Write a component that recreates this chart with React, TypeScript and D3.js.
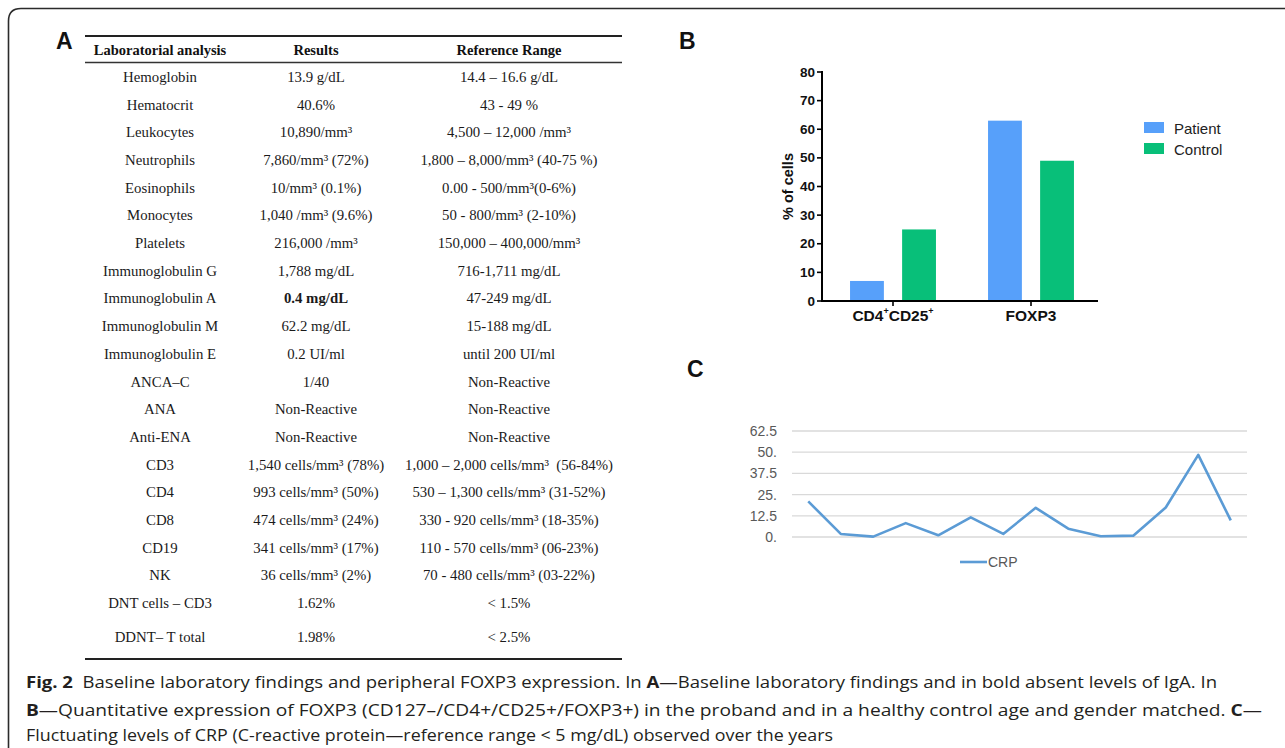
import React from "react";
import * as d3 from "d3";

// ---------- Panel A: table data ----------
const labTests = [
  "Hemoglobin", "Hematocrit", "Leukocytes", "Neutrophils", "Eosinophils", "Monocytes",
  "Platelets", "Immunoglobulin G", "Immunoglobulin A", "Immunoglobulin M", "Immunoglobulin E",
  "ANCA–C", "ANA", "Anti-ENA", "CD3", "CD4", "CD8", "CD19", "NK", "DNT cells – CD3", "DDNT– T total",
];
const labResults = [
  "13.9 g/dL", "40.6%", "10,890/mm³", "7,860/mm³ (72%)", "10/mm³ (0.1%)", "1,040 /mm³ (9.6%)",
  "216,000 /mm³", "1,788 mg/dL", "0.4 mg/dL", "62.2 mg/dL", "0.2 UI/ml", "1/40", "Non-Reactive",
  "Non-Reactive", "1,540 cells/mm³ (78%)", "993 cells/mm³ (50%)", "474 cells/mm³ (24%)",
  "341 cells/mm³ (17%)", "36 cells/mm³ (2%)", "1.62%", "1.98%",
];
const labRanges = [
  "14.4 – 16.6 g/dL", "43 - 49 %", "4,500 – 12,000 /mm³", "1,800 – 8,000/mm³ (40-75 %)",
  "0.00 - 500/mm³(0-6%)", "50 - 800/mm³ (2-10%)", "150,000 – 400,000/mm³", "716-1,711 mg/dL",
  "47-249 mg/dL", "15-188 mg/dL", "until 200 UI/ml", "Non-Reactive", "Non-Reactive", "Non-Reactive",
  "1,000 – 2,000 cells/mm³\u00a0 (56-84%)", "530 – 1,300 cells/mm³ (31-52%)", "330 - 920 cells/mm³ (18-35%)",
  "110 - 570 cells/mm³ (06-23%)", "70 - 480 cells/mm³ (03-22%)", "< 1.5%", "< 2.5%",
];
const tableHeaders = ["Laboratorial analysis", "Results", "Reference Range"];
const boldResultTest = "Immunoglobulin A";

// ---------- Panel B: bar chart data ----------
const cellCategories = ["CD4+CD25+", "FOXP3"];
const seriesNames = ["Patient", "Control"];
const patientValues = [7, 63];
const controlValues = [25, 49];
const barTicks = [0, 10, 20, 30, 40, 50, 60, 70, 80];

// ---------- Panel C: CRP line data ----------
const crpValues = [21, 1.8, 0.2, 8.2, 1.0, 11.6, 1.8, 17.2, 4.9, 0.4, 0.8, 17.4, 48.4, 9.8];
const crpTickValues = [0, 12.5, 25, 37.5, 50, 62.5];
const crpTickLabels = ["0.", "12.5", "25.", "37.5", "50.", "62.5"];

const W = 1285;
const H = 748;

const serif = "'Liberation Serif', 'Times New Roman', serif";
const sans = "'Liberation Sans', Arial, sans-serif";

function TablePanel() {
  const colX = [160, 316, 509];
  const rowY = d3.scaleLinear().domain([0, 19]).range([77, 603]);
  const yOf = (i: number) => rowY(i) + (i >= 20 ? 6 : 0);
  return (
    <g>
      <text x={56} y={49} fontFamily={sans} fontWeight="bold" fontSize={23} fill="#111">A</text>
      <line x1={85} x2={622} y1={36} y2={36} stroke="#222" strokeWidth={1.8} />
      <line x1={85} x2={622} y1={62.5} y2={62.5} stroke="#333" strokeWidth={1.4} />
      <line x1={85} x2={622} y1={659} y2={659} stroke="#222" strokeWidth={1.8} />
      {tableHeaders.map((h, j) => (
        <text key={h} x={colX[j]} y={50} textAnchor="middle" dominantBaseline="central"
          fontFamily={serif} fontWeight="bold" fontSize={14.5} fill="#111">{h}</text>
      ))}
      {labTests.map((t, i) => {
        const y = yOf(i);
        return (
          <g key={t} fontFamily={serif} fontSize={14.8} fill="#1a1a1a">
            <text x={colX[0]} y={y} textAnchor="middle" dominantBaseline="central">{t}</text>
            <text x={colX[1]} y={y} textAnchor="middle" dominantBaseline="central"
              fontWeight={t === boldResultTest ? "bold" : "normal"}>{labResults[i]}</text>
            <text x={colX[2]} y={y} textAnchor="middle" dominantBaseline="central">{labRanges[i]}</text>
          </g>
        );
      })}
    </g>
  );
}

function CategoryLabel({ label }: { label: string }) {
  // split "CD4+CD25+" into base text and superscript plus signs
  const tokens = label.match(/[^+]+|\+/g) || [];
  let raised = false;
  return (
    <>
      {tokens.map((tk, i) => {
        if (tk === "+") {
          const el = <tspan key={i} fontSize={9} dy={raised ? 0 : -7}>+</tspan>;
          raised = true;
          return el;
        }
        const el = <tspan key={i} dy={raised ? 7 : 0}>{tk}</tspan>;
        raised = false;
        return el;
      })}
    </>
  );
}

function BarPanel() {
  const left = 822, right = 1098, top = 72, bottom = 301;
  const y = d3.scaleLinear().domain([0, 80]).range([bottom, top]);
  const x0 = d3.scaleBand().domain(cellCategories).range([824, 1100]);
  const x1 = d3.scaleBand().domain(seriesNames).range([0, x0.bandwidth()]).paddingInner(0.35).paddingOuter(0.5);
  const color = d3.scaleOrdinal<string, string>().domain(seriesNames).range(["#57a0fa", "#08bf79"]);
  const values = [patientValues, controlValues];
  return (
    <g>
      <text x={679} y={49} fontFamily={sans} fontWeight="bold" fontSize={23} fill="#111">B</text>
      {cellCategories.map((c, ci) =>
        seriesNames.map((s, si) => (
          <rect key={c + s} x={(x0(c) as number) + (x1(s) as number)} width={x1.bandwidth()}
            y={y(values[si][ci])} height={bottom - y(values[si][ci])} fill={color(s)} />
        ))
      )}
      <line x1={left} x2={left} y1={top - 1} y2={bottom + 1} stroke="#000" strokeWidth={2} />
      <line x1={left - 1} x2={right} y1={bottom} y2={bottom} stroke="#000" strokeWidth={2} />
      {barTicks.map((t) => (
        <g key={t}>
          <line x1={left - 5} x2={left} y1={y(t)} y2={y(t)} stroke="#000" strokeWidth={1.6} />
          <text x={left - 7} y={y(t)} textAnchor="end" dominantBaseline="central"
            fontFamily={sans} fontWeight="bold" fontSize={13.5} fill="#111">{t}</text>
        </g>
      ))}
      {cellCategories.map((c) => {
        const cx = (x0(c) as number) + x0.bandwidth() / 2;
        return (
          <g key={c}>
            <line x1={cx} x2={cx} y1={bottom} y2={bottom + 5} stroke="#000" strokeWidth={1.6} />
            <text x={cx} y={321} textAnchor="middle" fontFamily={sans} fontWeight="bold" fontSize={15.5} fill="#111">
              <CategoryLabel label={c} />
            </text>
          </g>
        );
      })}
      <text transform={`translate(793,${(top + bottom) / 2}) rotate(-90)`} textAnchor="middle"
        fontFamily={sans} fontWeight="bold" fontSize={14.5} fill="#111">% of cells</text>
      {seriesNames.map((s, i) => (
        <g key={s} transform={`translate(1144,${122 + i * 21})`}>
          <rect width={20} height={11} fill={color(s)} />
          <text x={30} y={6} dominantBaseline="central" fontFamily={sans} fontSize={15} fill="#222">{s}</text>
        </g>
      ))}
    </g>
  );
}

function LinePanel() {
  const left = 792, right = 1247;
  const y = d3.scaleLinear().domain([0, 62.5]).range([537, 431]);
  const x = d3.scalePoint<number>().domain(crpValues.map((_, i) => i)).range([left, right]).padding(0.5);
  const line = d3.line<number>().x((_, i) => x(i) as number).y((d) => y(d));
  return (
    <g>
      <text x={687} y={377} fontFamily={sans} fontWeight="bold" fontSize={23} fill="#111">C</text>
      {crpTickValues.map((t, i) => (
        <g key={t}>
          <line x1={left} x2={right} y1={y(t)} y2={y(t)} stroke="#d9d9d9" strokeWidth={1.3} />
          <text x={777} y={y(t)} textAnchor="end" dominantBaseline="central"
            fontFamily={sans} fontSize={14} fill="#595959">{crpTickLabels[i]}</text>
        </g>
      ))}
      <path d={line(crpValues) as string} fill="none" stroke="#5b9bd5" strokeWidth={2.6} strokeLinejoin="round" />
      <line x1={960} x2={987} y1={562} y2={562} stroke="#5b9bd5" strokeWidth={2.6} />
      <text x={988} y={562} dominantBaseline="central" fontFamily={sans} fontSize={14} fill="#595959">CRP</text>
    </g>
  );
}

function Caption() {
  const f = "'Open Sans', 'Noto Sans', sans-serif";
  return (
    <g fontFamily={f} fontSize={16} fill="#231f20">
      <text x={26} y={688} textLength={1191} lengthAdjust="spacingAndGlyphs">
        <tspan fontWeight="bold">Fig. 2</tspan>
        <tspan>{"\u00a0\u00a0Baseline laboratory findings and peripheral FOXP3 expression. In "}</tspan>
        <tspan fontWeight="bold">A</tspan>
        <tspan>—Baseline laboratory findings and in bold absent levels of IgA. In</tspan>
      </text>
      <text x={26} y={716} textLength={1236} lengthAdjust="spacingAndGlyphs">
        <tspan fontWeight="bold">B</tspan>
        <tspan>—Quantitative expression of FOXP3 (CD127–/CD4+/CD25+/FOXP3+) in the proband and in a healthy control age and gender matched. </tspan>
        <tspan fontWeight="bold">C</tspan>
        <tspan>—</tspan>
      </text>
      <text x={26} y={741} textLength={807} lengthAdjust="spacingAndGlyphs">
        Fluctuating levels of CRP (C-reactive protein—reference range {"<"} 5 mg/dL) observed over the years
      </text>
    </g>
  );
}

export default function App() {
  return (
    <svg width={W} height={H} viewBox={`0 0 ${W} ${H}`}
      style={{ position: "absolute", left: 0, top: 0, background: "#fff" }}>
      <rect width={W} height={H} fill="#fff" />
      <path d={`M8.5,${H} V21 Q8.5,8.5 21,8.5 H${W}`} fill="none" stroke="#2b2b2b" strokeWidth={1.6} />
      <TablePanel />
      <BarPanel />
      <LinePanel />
      <Caption />
    </svg>
  );
}
